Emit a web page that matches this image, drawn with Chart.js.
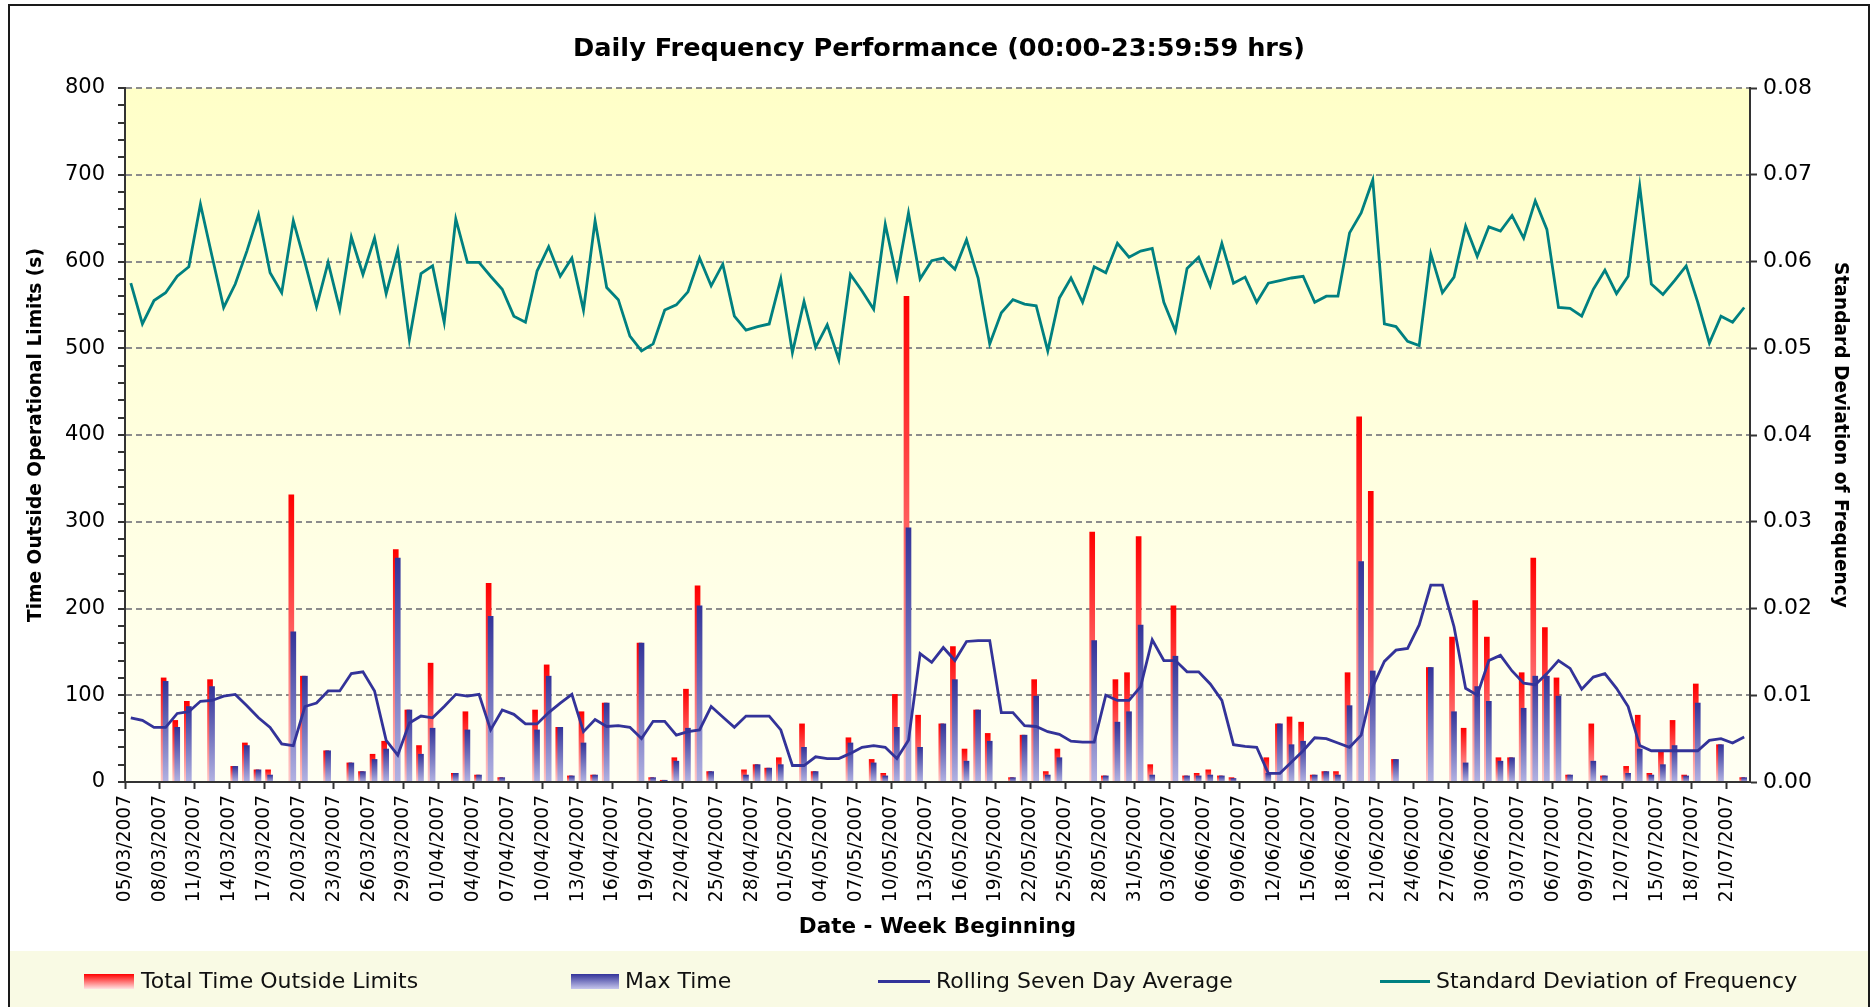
<!DOCTYPE html>
<html>
<head>
<meta charset="utf-8">
<title>Daily Frequency Performance</title>
<script src="https://cdn.jsdelivr.net/npm/chart.js@4.4.0/dist/chart.umd.min.js"></script>
<style>
  html, body { margin: 0; padding: 0; background: #fff; }
  #wrap { position: relative; width: 1874px; height: 1007px; overflow: hidden; font-family: 'DejaVu Sans', sans-serif; }
  #chart { position: absolute; left: 0; top: 0; }
  #band { position: absolute; left: 10px; top: 951px; width: 1858px; height: 56px; background: #f9fae4; }
  #frame { position: absolute; left: 8px; top: 4px; width: 1858px; height: 1040px; border: 2px solid #1a1a1a; pointer-events: none; }
  .sw { position: absolute; }
  .lt { position: absolute; top: 968px; line-height: 26px; font-size: 22px; color: #111; white-space: nowrap; }
</style>
</head>
<body>
<div id="wrap">
  <div id="band"></div>
  <canvas id="chart" width="1874" height="1007"></canvas>
  <div id="legend"></div>
  <div id="frame"></div>
</div>
<script>
// tick labels, one every third day starting 05/03/2007
const tickLabels = [
  '05/03/2007', '08/03/2007', '11/03/2007', '14/03/2007', '17/03/2007', '20/03/2007', '23/03/2007', '26/03/2007', '29/03/2007',
  '01/04/2007', '04/04/2007', '07/04/2007', '10/04/2007', '13/04/2007', '16/04/2007', '19/04/2007', '22/04/2007', '25/04/2007', '28/04/2007',
  '01/05/2007', '04/05/2007', '07/05/2007', '10/05/2007', '13/05/2007', '16/05/2007', '19/05/2007', '22/05/2007', '25/05/2007', '28/05/2007', '31/05/2007',
  '03/06/2007', '06/06/2007', '09/06/2007', '12/06/2007', '15/06/2007', '18/06/2007', '21/06/2007', '24/06/2007', '27/06/2007', '30/06/2007',
  '03/07/2007', '06/07/2007', '09/07/2007', '12/07/2007', '15/07/2007', '18/07/2007', '21/07/2007'
];

// daily values, 05/03/2007 .. 22/07/2007
const totalTime = [
  0, 0, 0, 120, 71, 93, 0, 118, 0, 18,
  45, 14, 14, 0, 331, 122, 0, 36, 0, 22,
  12, 32, 47, 268, 83, 42, 137, 0, 10, 81,
  8, 229, 5, 0, 0, 83, 135, 63, 7, 81,
  8, 91, 0, 0, 160, 5, 2, 28, 107, 226,
  12, 0, 0, 14, 20, 16, 28, 0, 67, 12,
  0, 0, 51, 0, 26, 10, 101, 560, 77, 0,
  67, 156, 38, 83, 56, 0, 5, 54, 118, 12,
  38, 0, 0, 288, 7, 118, 126, 283, 20, 0,
  203, 7, 10, 14, 7, 5, 0, 0, 28, 67,
  75, 69, 8, 12, 12, 126, 421, 335, 0, 26,
  0, 0, 132, 0, 167, 62, 209, 167, 28, 28,
  126, 258, 178, 120, 8, 0, 67, 7, 0, 18,
  77, 10, 36, 71, 8, 113, 0, 43, 0, 5
];

const maxTime = [
  0, 0, 0, 116, 63, 87, 0, 110, 0, 18,
  42, 14, 8, 0, 173, 122, 0, 36, 0, 22,
  12, 26, 38, 258, 83, 32, 62, 0, 10, 60,
  8, 191, 5, 0, 0, 60, 122, 63, 7, 45,
  8, 91, 0, 0, 160, 5, 2, 24, 62, 203,
  12, 0, 0, 8, 20, 16, 20, 0, 40, 12,
  0, 0, 45, 0, 22, 7, 63, 293, 40, 0,
  67, 118, 24, 83, 47, 0, 5, 54, 99, 8,
  28, 0, 0, 163, 7, 69, 81, 181, 8, 0,
  145, 7, 7, 8, 7, 4, 0, 0, 10, 67,
  43, 47, 8, 12, 8, 88, 254, 128, 0, 26,
  0, 0, 132, 0, 81, 22, 110, 93, 24, 28,
  85, 122, 122, 99, 8, 0, 24, 7, 0, 10,
  38, 8, 20, 42, 7, 91, 0, 43, 0, 5
];

const rollingAvg = [
  74, 71, 63, 63, 79, 81, 93, 94, 99, 101,
  88, 74, 63, 44, 42, 87, 91, 105, 105, 125,
  127, 105, 48, 31, 68, 76, 74, 87, 101, 99,
  101, 60, 83, 78, 67, 67, 80, 91, 101, 58,
  72, 64, 65, 63, 50, 70, 70, 54, 58, 60,
  87, 75, 63, 76, 76, 76, 60, 19, 19, 29,
  27, 27, 33, 40, 42, 40, 27, 48, 148, 138,
  155, 140, 162, 163, 163, 80, 80, 65, 64, 58,
  55, 47, 46, 46, 100, 94, 94, 110, 164, 140,
  140, 127, 127, 113, 94, 43, 41, 40, 10, 10,
  23, 36, 51, 50, 45, 40, 54, 110, 139, 152,
  154, 181, 227, 227, 179, 108, 100, 140, 146, 128,
  114, 112, 125, 140, 131, 107, 121, 125, 108, 87,
  42, 36, 36, 36, 36, 36, 48, 50, 45, 52
];

const stdDev = [
  0.0575, 0.0528, 0.0555, 0.0564, 0.0583, 0.0594, 0.0666, 0.0606, 0.0547, 0.0574,
  0.0612, 0.0654, 0.0587, 0.0564, 0.0647, 0.0599, 0.0548, 0.0599, 0.0545, 0.0628,
  0.0585, 0.0627, 0.0563, 0.0613, 0.0510, 0.0586, 0.0595, 0.0530, 0.0649, 0.0599,
  0.0599, 0.0583, 0.0568, 0.0537, 0.0530, 0.0589, 0.0617, 0.0583, 0.0604, 0.0544,
  0.0647, 0.0570, 0.0556, 0.0514, 0.0497, 0.0505, 0.0544, 0.0550, 0.0565, 0.0604,
  0.0572, 0.0597, 0.0537, 0.0521, 0.0525, 0.0528, 0.0580, 0.0495, 0.0554, 0.0501,
  0.0527, 0.0487, 0.0585, 0.0566, 0.0545, 0.0643, 0.0581, 0.0656, 0.0580, 0.0601,
  0.0604, 0.0591, 0.0625, 0.0581, 0.0505, 0.0541, 0.0556, 0.0551, 0.0549, 0.0497,
  0.0558, 0.0581, 0.0553, 0.0594, 0.0587, 0.0621, 0.0605, 0.0612, 0.0615, 0.0553,
  0.0520, 0.0592, 0.0605, 0.0572, 0.0621, 0.0575, 0.0582, 0.0553, 0.0575, 0.0578,
  0.0581, 0.0583, 0.0553, 0.0560, 0.0560, 0.0633, 0.0656, 0.0694, 0.0528, 0.0525,
  0.0508, 0.0503, 0.0609, 0.0564, 0.0582, 0.0641, 0.0606, 0.0640, 0.0635, 0.0653,
  0.0627, 0.0670, 0.0637, 0.0547, 0.0546, 0.0537, 0.0568, 0.0590, 0.0563, 0.0583,
  0.0687, 0.0574, 0.0562, 0.0578, 0.0595, 0.0553, 0.0506, 0.0537, 0.0530, 0.0547
];

const FONT = "'DejaVu Sans', sans-serif";
const days = totalTime.length;
const redShift = 0.172;   // red bar sits ~2px to the left of the blue one

// each day's point sits in the middle of its slot
const pts = arr => arr.map((v, i) => ({ x: i + 0.5, y: v }));

// vertical gradient per bar, from the bar top down to zero
function barFill(top, bottom) {
  return function (c) {
    const chart = c.chart;
    const y = chart.scales.y;
    if (c.type !== 'data' || !y || !c.raw) return top;
    const y0 = y.getPixelForValue(0);
    const y1 = y.getPixelForValue(c.raw.y);
    if (!isFinite(y1) || y0 - y1 < 1) return top;
    const g = chart.ctx.createLinearGradient(0, y1, 0, y0);
    g.addColorStop(0, top);
    g.addColorStop(1, bottom);
    return g;
  };
}

const plotBackground = {
  id: 'plotBackground',
  beforeDraw(chart) {
    const { ctx, chartArea: a } = chart;
    const g = ctx.createLinearGradient(0, a.top, 0, a.bottom);
    g.addColorStop(0, '#ffffc8');
    g.addColorStop(1, '#fffff3');
    ctx.save();
    ctx.fillStyle = g;
    ctx.fillRect(a.left, a.top, a.right - a.left, a.bottom - a.top);
    ctx.restore();
  }
};

Chart.defaults.font.family = FONT;
Chart.defaults.color = '#000';

const chart = new Chart(document.getElementById('chart'), {
  type: 'bar',
  data: {
    datasets: [
      {
        type: 'bar', label: 'Total Time Outside Limits', data: pts(totalTime),
        xAxisID: 'xr', yAxisID: 'y', backgroundColor: barFill('#ff0000', '#ffc8c8'),
        barThickness: 5, grouped: false, order: 4
      },
      {
        type: 'bar', label: 'Max Time', data: pts(maxTime),
        xAxisID: 'x', yAxisID: 'y', backgroundColor: barFill('#333399', '#b2b2e2'),
        barThickness: 5, grouped: false, order: 3
      },
      {
        type: 'line', label: 'Rolling Seven Day Average', data: pts(rollingAvg),
        xAxisID: 'x', yAxisID: 'y', borderColor: '#333399', borderWidth: 2.8,
        pointRadius: 0, tension: 0, order: 2
      },
      {
        type: 'line', label: 'Standard Deviation of Frequency', data: pts(stdDev),
        xAxisID: 'x', yAxisID: 'y2', borderColor: '#008080', borderWidth: 2.8,
        pointRadius: 0, tension: 0, order: 1
      }
    ]
  },
  options: {
    responsive: false,
    animation: false,
    devicePixelRatio: 1,
    layout: { padding: { left: 10, right: 6, top: 6, bottom: 56 } },
    plugins: {
      legend: { display: false },
      tooltip: { enabled: false },
      title: {
        display: true,
        text: 'Daily Frequency Performance (00:00-23:59:59 hrs)',
        color: '#000',
        font: { family: FONT, size: 25.6, weight: 'bold' },
        padding: { top: 27.6, bottom: 23.7 }
      }
    },
    scales: {
      x: {
        type: 'linear', position: 'bottom', min: 0, max: days, offset: false,
        afterBuildTicks: s => { s.ticks = tickLabels.map((t, k) => ({ value: k * 3 })); },
        afterFit: s => { s.height = 169; },
        ticks: {
          autoSkip: false, minRotation: 90, maxRotation: 90, padding: 6,
          font: { size: 18.6 },
          callback: (v, i) => tickLabels[i]
        },
        grid: { offset: false, drawOnChartArea: false, tickLength: 7, tickColor: '#333', tickWidth: 2 },
        border: { color: '#333', width: 2, z: 1 },
        title: {
          display: true, text: 'Date - Week Beginning',
          font: { size: 21.5, weight: 'bold' }, padding: { top: 0, bottom: 11 }
        }
      },
      xr: {
        type: 'linear', axis: 'x', position: 'bottom', display: false,
        min: redShift, max: days + redShift, offset: false, grid: { offset: false }
      },
      y: {
        type: 'linear', position: 'left', min: 0, max: 800,
        afterFit: s => { s.width = 115; },
        ticks: {
          stepSize: 20, autoSkip: false, padding: 13, font: { size: 21 },
          callback: v => (v % 100 === 0 ? String(v) : '')
        },
        grid: {
          color: c => (c.tick && c.tick.value % 100 === 0 && c.tick.value > 0) ? '#8c8c8c' : 'rgba(0,0,0,0)',
          lineWidth: 2, tickLength: 7, tickColor: '#333', tickWidth: 2, tickBorderDash: []
        },
        border: { color: '#333', width: 2, dash: [6, 4] },
        title: {
          display: true, text: 'Time Outside Operational Limits (s)',
          font: { size: 18.6, weight: 'bold' }, padding: { top: 14.8, bottom: 0 }
        }
      },
      y2: {
        type: 'linear', position: 'right', min: 0, max: 0.08,
        afterFit: s => { s.width = 118; },
        ticks: {
          stepSize: 0.01, autoSkip: false, padding: 6, font: { size: 22 },
          callback: v => v.toFixed(2)
        },
        grid: { drawOnChartArea: false, tickLength: 7, tickColor: '#333', tickWidth: 2 },
        border: { color: '#333', width: 2 },
        title: {
          display: true, text: 'Standard Deviation of Frequency',
          font: { size: 18.6, weight: 'bold' }, padding: { top: 16.9, bottom: 0 }
        }
      }
    }
  },
  plugins: [plotBackground]
});

// legend row in the band under the axis title
const legendSpots = [
  { sw: 84, tx: 141, w: 50, kind: 'bar', fill: 'linear-gradient(#ff0000, #ffe4e4)' },
  { sw: 571, tx: 625, w: 48, kind: 'bar', fill: 'linear-gradient(#333399, #c6c6ec)' },
  { sw: 878, tx: 936, w: 52, kind: 'line', fill: '#333399' },
  { sw: 1380, tx: 1436, w: 50, kind: 'line', fill: '#008080' }
];
const legendEl = document.getElementById('legend');
chart.data.datasets.forEach((ds, k) => {
  const spot = legendSpots[k];
  const sw = document.createElement('div');
  sw.className = 'sw';
  sw.style.left = spot.sw + 'px';
  sw.style.width = spot.w + 'px';
  sw.style.top = (spot.kind === 'bar' ? 974 : 980) + 'px';
  sw.style.height = (spot.kind === 'bar' ? 15 : 3) + 'px';
  sw.style.background = spot.fill;
  legendEl.appendChild(sw);
  const tx = document.createElement('div');
  tx.className = 'lt';
  tx.style.left = spot.tx + 'px';
  tx.textContent = ds.label;
  legendEl.appendChild(tx);
});
</script>
</body>
</html>
